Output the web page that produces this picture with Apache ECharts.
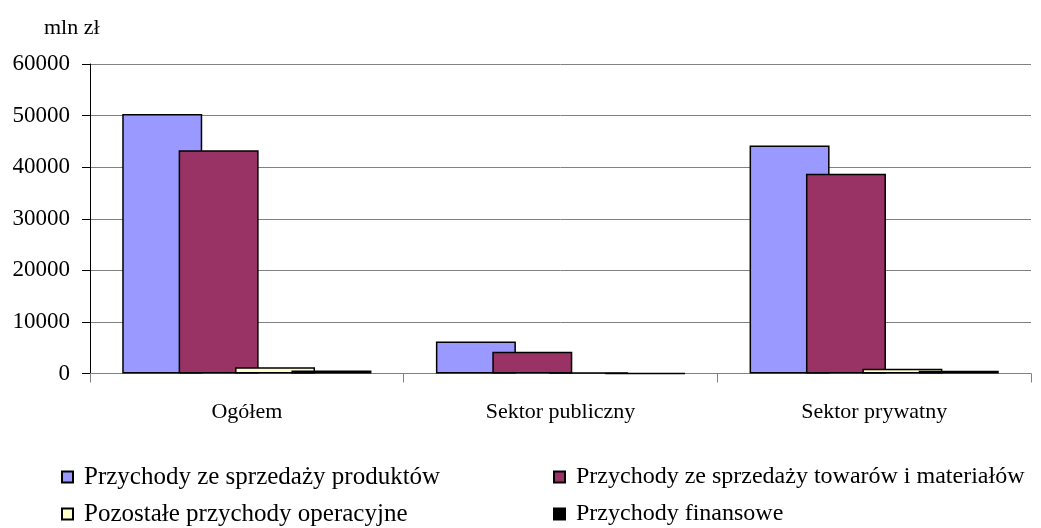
<!DOCTYPE html>
<html>
<head>
<meta charset="utf-8">
<script src="https://cdn.jsdelivr.net/npm/echarts@6/dist/echarts.min.js"></script>
<style>
  html, body { margin: 0; padding: 0; background: #fff; }
  #chart { width: 1041px; height: 528px; }
</style>
</head>
<body>
<div id="chart"></div>
<script>
// kategorie i wartości (mln zł)
var categories = ['Ogółem', 'Sektor publiczny', 'Sektor prywatny'];
var seriesNames = [
  'Przychody ze sprzedaży produktów',
  'Przychody ze sprzedaży towarów i materiałów',
  'Pozostałe przychody operacyjne',
  'Przychody finansowe'
];
var produkty = [50300, 6200, 44200];
var towary = [43300, 4200, 38700];
var pozostale = [1200, 200, 900];
var finansowe = [600, 40, 550];
var yTicks = [0, 10000, 20000, 30000, 40000, 50000, 60000];

var colors = ['#9999FF', '#993366', '#FFFFCC', '#000000'];
var values = [produkty, towary, pozostale, finansowe];

var myChart = echarts.init(document.getElementById('chart'));

var font = 'Liberation Serif, Times New Roman, serif';

var series = seriesNames.map(function (name, i) {
  return {
    name: name,
    type: 'bar',
    barWidth: 80,
    barGap: '-29.5%',
    data: values[i],
    itemStyle: {
      color: colors[i],
      borderColor: '#000',
      borderWidth: 1.5
    }
  };
});

// legenda: 2 kolumny x 2 wiersze, każda pozycja osobno
var legendPos = [[61, 464], [553, 464], [61, 501], [553, 501]];
var legendFont = [25, 24, 25, 24];
var legends = seriesNames.map(function (name, k) {
  return {
    left: legendPos[k][0],
    top: legendPos[k][1],
    data: [name],
    itemWidth: 11,
    itemHeight: 11,
    icon: 'rect',
    padding: 0,
    textStyle: {
      fontFamily: font,
      fontSize: legendFont[k],
      lineHeight: 26,
      color: '#000',
      padding: [0, 0, 0, 6]
    }
  };
});

var option = {
  animation: false,
  backgroundColor: '#fff',
  title: {
    text: 'mln zł',
    left: 39,
    top: 12,
    textStyle: { fontFamily: font, fontSize: 22, fontWeight: 'normal', color: '#000' }
  },
  legend: legends,
  grid: {
    left: 90,
    right: 10,
    top: 64,
    bottom: 154.5,
    containLabel: false
  },
  xAxis: {
    type: 'category',
    data: categories,
    boundaryGap: true,
    axisLine: { lineStyle: { color: '#808080', width: 1 } },
    axisTick: { show: true, length: 9, lineStyle: { color: '#808080' } },
    axisLabel: { margin: 28, fontFamily: font, fontSize: 22, color: '#000' }
  },
  yAxis: {
    type: 'value',
    min: yTicks[0],
    max: yTicks[yTicks.length - 1],
    interval: 10000,
    axisLine: { show: true, lineStyle: { color: '#000', width: 1 } },
    axisTick: { show: true, inside: false, length: 8, lineStyle: { color: '#000' } },
    axisLabel: {
      margin: 20,
      fontFamily: font,
      fontSize: 23,
      color: '#000',
      formatter: function (v) { return String(v); }
    },
    splitLine: { show: true, lineStyle: { color: '#808080', width: 1 } }
  },
  series: series
};

myChart.setOption(option);
</script>
</body>
</html>
